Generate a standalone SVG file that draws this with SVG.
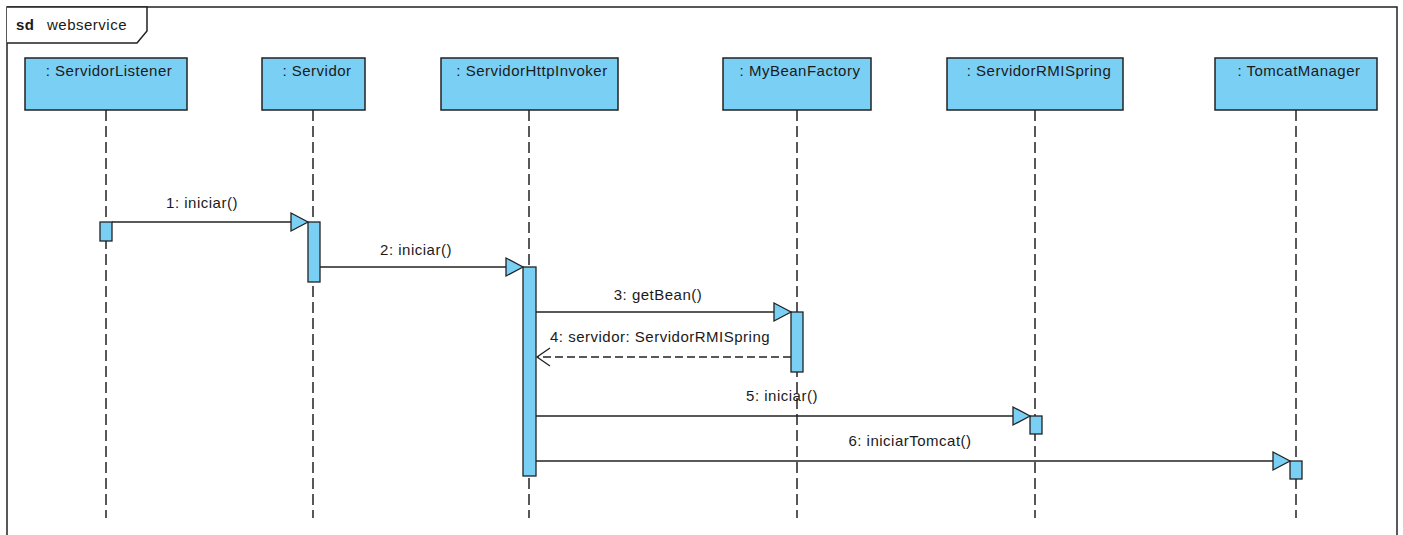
<svg xmlns="http://www.w3.org/2000/svg" width="1403" height="535" viewBox="0 0 1403 535">
<style>
  text { font-family: "Liberation Sans", Arial, sans-serif; font-size: 15px; letter-spacing: 0.5px; fill: #1a1a1a; }
  .box { fill: #7ACFF5; stroke: #222; stroke-width: 1.5; }
  .act { fill: #7ACFF5; stroke: #222; stroke-width: 1.3; }
  .life { stroke: #222; stroke-width: 1.5; stroke-dasharray: 11 5; fill: none; }
  .msg { stroke: #222; stroke-width: 1.3; fill: none; }
  .ret { stroke: #222; stroke-width: 1.3; fill: none; stroke-dasharray: 8 4; }
  .head { fill: #7ACFF5; stroke: #222; stroke-width: 1.3; }
  .lbl { text-anchor: middle; }
</style>
<rect x="0" y="0" width="1403" height="535" fill="#fff"/>
<g id="frame">
  <rect x="7" y="7" width="1390" height="540" fill="none" stroke="#222" stroke-width="1.5"/>
  <path d="M7,7 H147 V31 L137,43 H7" fill="#fff" stroke="#222" stroke-width="1.5"/>
  <text x="16" y="30" style="font-weight:bold">sd</text>
  <text x="47" y="30">webservice</text>
</g>
<g id="lifelines">
  <g id="ServidorListener">
    <line class="life" x1="106" y1="110" x2="106" y2="518"/>
    <rect class="box" x="25" y="58" width="162" height="52"/>
    <text class="lbl" x="109" y="76">: ServidorListener</text>
  </g>
  <g id="Servidor">
    <line class="life" x1="313" y1="110" x2="313" y2="518"/>
    <rect class="box" x="262" y="58" width="103" height="52"/>
    <text class="lbl" x="317" y="76">: Servidor</text>
  </g>
  <g id="ServidorHttpInvoker">
    <line class="life" x1="529" y1="110" x2="529" y2="518"/>
    <rect class="box" x="441" y="58" width="177" height="52"/>
    <text class="lbl" x="532" y="76">: ServidorHttpInvoker</text>
  </g>
  <g id="MyBeanFactory">
    <line class="life" x1="797" y1="110" x2="797" y2="518"/>
    <rect class="box" x="723" y="58" width="148" height="52"/>
    <text class="lbl" x="800" y="76">: MyBeanFactory</text>
  </g>
  <g id="ServidorRMISpring">
    <line class="life" x1="1035" y1="110" x2="1035" y2="518"/>
    <rect class="box" x="947" y="58" width="176" height="52"/>
    <text class="lbl" x="1039" y="76">: ServidorRMISpring</text>
  </g>
  <g id="TomcatManager">
    <line class="life" x1="1296" y1="110" x2="1296" y2="518"/>
    <rect class="box" x="1215" y="58" width="162" height="52"/>
    <text class="lbl" x="1299" y="76">: TomcatManager</text>
  </g>
</g>
<g id="activations">
  <rect class="act" x="100" y="222" width="12" height="19"/>
  <rect class="act" x="308" y="222" width="12" height="60"/>
  <rect class="act" x="523" y="267" width="13" height="209"/>
  <rect class="act" x="791" y="312" width="12" height="60"/>
  <rect class="act" x="1030" y="416" width="12" height="18"/>
  <rect class="act" x="1290" y="461" width="12" height="18"/>
</g>
<g id="connectors">
  <g id="m1">
    <line class="msg" x1="112" y1="222" x2="300" y2="222"/>
    <polygon class="head" points="291,213 308,222 291,231"/>
    <text class="lbl" x="202" y="208">1: iniciar()</text>
  </g>
  <g id="m2">
    <line class="msg" x1="320" y1="267" x2="515" y2="267"/>
    <polygon class="head" points="506,258 523,267 506,276"/>
    <text class="lbl" x="416" y="255">2: iniciar()</text>
  </g>
  <g id="m3">
    <line class="msg" x1="536" y1="312" x2="783" y2="312"/>
    <polygon class="head" points="774,303 791,312 774,321"/>
    <text class="lbl" x="658" y="300">3: getBean()</text>
  </g>
  <g id="m4">
    <line class="ret" x1="791" y1="357" x2="537" y2="357"/>
    <polyline class="msg" points="550,348 537,357 550,366"/>
    <text x="550" y="342">4: servidor: ServidorRMISpring</text>
  </g>
  <g id="m5">
    <line class="msg" x1="536" y1="416" x2="1022" y2="416"/>
    <polygon class="head" points="1013,407 1030,416 1013,425"/>
    <text class="lbl" x="782" y="401">5: iniciar()</text>
  </g>
  <g id="m6">
    <line class="msg" x1="536" y1="461" x2="1282" y2="461"/>
    <polygon class="head" points="1273,452 1290,461 1273,470"/>
    <text class="lbl" x="910" y="446">6: iniciarTomcat()</text>
  </g>
</g>
</svg>
